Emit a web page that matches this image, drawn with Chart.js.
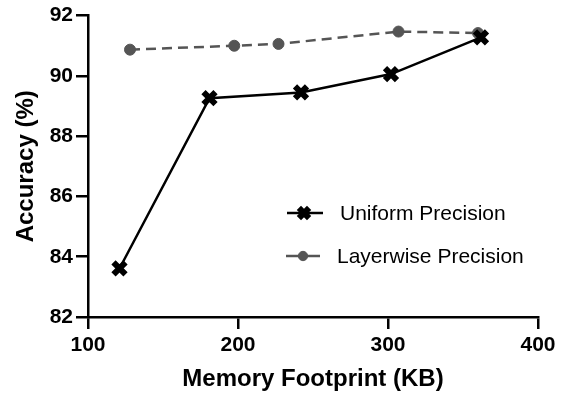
<!DOCTYPE html>
<html>
<head>
<meta charset="utf-8">
<script src="https://cdn.jsdelivr.net/npm/chart.js@4.4.0/dist/chart.umd.min.js"></script>
<style>
    html, body { margin: 0; padding: 0; background: #fff; }
    #wrap { width: 570px; height: 396px; }
</style>
</head>
<body>
<div id="wrap"><canvas id="accChart"></canvas></div>
<script>
// Data
const seriesNames = ['Uniform Precision', 'Layerwise Precision'];
const memoryUniform = [121, 181, 242, 302, 362];
const accUniform = [83.61, 89.26, 89.45, 90.06, 91.28];
const memoryLayerwise = [128, 197.5, 227, 307, 360];
const accLayerwise = [90.87, 91.0, 91.06, 91.47, 91.42];
const xTicks = [100, 200, 300, 400];
const yTicks = [82, 84, 86, 88, 90, 92];

const fontFamily = '"Liberation Sans", Arial, Helvetica, sans-serif';

function toPoints(xs, ys) {
    return xs.map((x, i) => ({ x: x, y: ys[i] }));
}

// legend drawn inside the plot area, like the original
const insideLegend = {
    id: 'insideLegend',
    afterDatasetsDraw(chart) {
        const ctx = chart.ctx;
        const rows = [
            { ds: chart.data.datasets[0], x: 287, y: 213, textX: 340 },
            { ds: chart.data.datasets[1], x: 286, y: 256, textX: 337 }
        ];
        ctx.save();
        rows.forEach(r => {
            ctx.strokeStyle = r.ds.borderColor;
            ctx.lineWidth = r.ds.borderWidth;
            ctx.setLineDash([]);
            ctx.beginPath();
            ctx.moveTo(r.x, r.y);
            ctx.lineTo(r.x + 24, r.y);
            ctx.stroke();
            ctx.setLineDash(r.ds.borderDash || []);
            ctx.beginPath();
            ctx.moveTo(r.x + 24, r.y);
            ctx.lineTo(r.x + 36, r.y);
            ctx.stroke();
            ctx.setLineDash([]);
            ctx.fillStyle = r.ds.pointBackgroundColor;
            ctx.strokeStyle = r.ds.pointBorderColor;
            ctx.lineWidth = r.ds.pointBorderWidth;
            Chart.helpers.drawPoint(ctx, {
                pointStyle: r.ds.pointStyle,
                radius: r.ds.pointRadius * 0.85,
                borderWidth: r.ds.pointBorderWidth
            }, r.x + 17, r.y);
            ctx.fillStyle = '#000';
            ctx.font = '21px ' + fontFamily;
            ctx.textBaseline = 'middle';
            ctx.textAlign = 'left';
            ctx.fillText(r.ds.label, r.textX, r.y + 1);
        });
        ctx.restore();
    }
};

const axisColor = '#000';

const ctx = document.getElementById('accChart').getContext('2d');
const accChart = new Chart(ctx, {
    type: 'line',
    data: {
        datasets: [
            {
                label: seriesNames[0],
                data: toPoints(memoryUniform, accUniform),
                borderColor: '#000',
                backgroundColor: '#000',
                borderWidth: 2.5,
                pointStyle: 'crossRot',
                pointRadius: 8.5,
                pointBorderWidth: 6,
                pointBorderColor: '#000',
                pointBackgroundColor: '#000',
                tension: 0
            },
            {
                label: seriesNames[1],
                data: toPoints(memoryLayerwise, accLayerwise),
                borderColor: '#555',
                backgroundColor: '#555',
                borderWidth: 2.5,
                borderDash: [10, 6],
                pointStyle: 'circle',
                pointRadius: 5.5,
                pointBorderWidth: 1,
                pointBorderColor: '#555',
                pointBackgroundColor: '#555',
                tension: 0
            }
        ]
    },
    options: {
        responsive: true,
        maintainAspectRatio: false,
        animation: false,
        layout: {
            padding: { top: 15, right: 32, left: 0, bottom: 0 }
        },
        scales: {
            x: {
                type: 'linear',
                min: 100,
                max: 400,
                afterFit: function(scale) { scale.height = 79; },
                afterBuildTicks: function(scale) {
                    scale.ticks = xTicks.map(v => ({ value: v }));
                },
                border: { display: true, color: axisColor, width: 2.5 },
                grid: {
                    drawOnChartArea: false,
                    drawTicks: true,
                    tickLength: 12,
                    color: axisColor,
                    lineWidth: 2.5
                },
                ticks: {
                    color: '#000',
                    padding: 4,
                    maxRotation: 0,
                    font: { family: fontFamily, size: 21, weight: 'bold' }
                },
                title: {
                    display: true,
                    text: 'Memory Footprint (KB)',
                    color: '#000',
                    padding: { top: 0, bottom: 2 },
                    font: { family: fontFamily, size: 24, weight: 'bold' }
                }
            },
            y: {
                min: 82,
                max: 92,
                afterFit: function(scale) { scale.width = 88; },
                afterBuildTicks: function(scale) {
                    scale.ticks = yTicks.map(v => ({ value: v }));
                },
                border: { display: true, color: axisColor, width: 2.5 },
                grid: {
                    drawOnChartArea: false,
                    drawTicks: true,
                    tickLength: 12,
                    color: axisColor,
                    lineWidth: 2.5
                },
                ticks: {
                    color: '#000',
                    padding: 3,
                    font: { family: fontFamily, size: 21, weight: 'bold' }
                },
                title: {
                    display: true,
                    text: 'Accuracy (%)',
                    color: '#000',
                    padding: { top: 12, bottom: 0 },
                    font: { family: fontFamily, size: 24, weight: 'bold' }
                }
            }
        },
        plugins: {
            legend: { display: false },
            tooltip: { enabled: false }
        }
    },
    plugins: [insideLegend]
});
</script>
</body>
</html>
